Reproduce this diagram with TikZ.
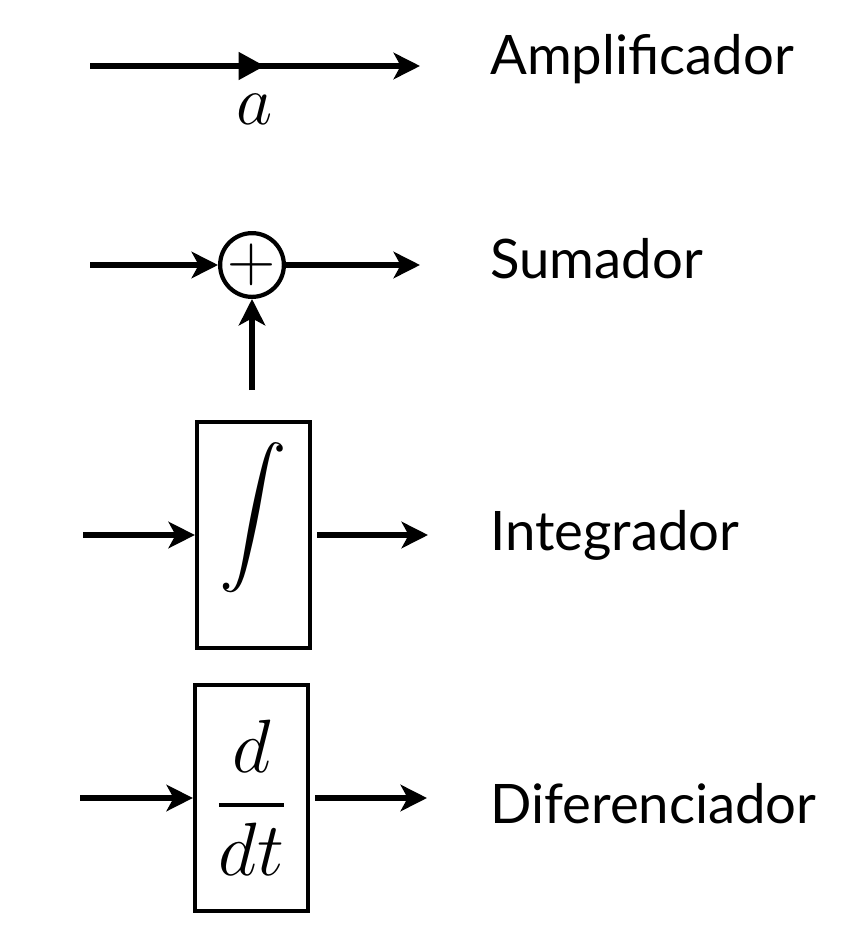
\RequirePackage{fix-cm}
\documentclass[tikz,border=0pt]{standalone}
\usepackage{exscale}
\usepackage{fontspec}
\DeclareFontShape{OMX}{cmex}{m}{n}{<->cmex10}{}
\newfontfamily\labelfont{Lato}
\usetikzlibrary{arrows.meta,decorations.markings}

\begin{document}
\begin{tikzpicture}[x=0.02cm, y=-0.02cm,
	sig/.style={line width=3.7pt, -{Stealth[length=15pt, width=15pt, inset=4pt]}},
	midarrow/.style={postaction={decorate, decoration={markings, mark=at position 0.53 with {\arrow{Triangle[length=15pt, width=15pt]}}}}},
	block/.style={draw, line width=2.4pt, minimum width=64.3pt, minimum height=129pt, inner sep=0pt, font=\fontsize{43}{46}\selectfont},
	blockname/.style={anchor=base west, inner sep=0pt, font=\labelfont\fontsize{31}{36}\selectfont}]
	\useasboundingbox (0,0) rectangle (866,936);

	\coordinate (ain) at (90,66);
	\coordinate (aout) at (420,66);
	\draw[sig, midarrow] (ain) -- node[below=11pt, font=\fontsize{40}{44}\selectfont] (gain) {$a$} (aout);
	\node[blockname] (tamp) at (490,75) {Amplificador};

	\node[draw, circle, line width=2.4pt, minimum size=34.7pt, inner sep=0pt, font=\fontsize{38}{40}\selectfont] (sum) at (252,265) {$+$};
	\coordinate (sin) at (90,265);
	\coordinate (sout) at (420,265);
	\coordinate (sbot) at (252,390);
	\draw[sig] (sin) -- (sum);
	\draw[sig] (sum) -- (sout);
	\draw[sig] (sbot) -- (sum);
	\node[blockname] (tsum) at (490,278) {Sumador};

	\node[block, font=\fontsize{38.5}{42}\selectfont] (int) at (253.5,535) {\raisebox{0pt}[0pt][0pt]{$\displaystyle\int$}};
	\coordinate (iin) at (83,535);
	\coordinate (iout) at (428,535);
	\draw[sig] (iin) -- (int);
	\draw[sig, shorten <=3pt] (int) -- (iout);
	\node[blockname] (tint) at (490,550) {Integrador};

	\node[block] (der) at (251.5,798) {$\displaystyle\frac{d}{dt}$};
	\coordinate (din) at (80,798);
	\coordinate (dout) at (427,798);
	\draw[sig] (din) -- (der);
	\draw[sig, shorten <=3pt] (der) -- (dout);
	\node[blockname] (tder) at (490,823) {Diferenciador};
\end{tikzpicture}
\end{document}
